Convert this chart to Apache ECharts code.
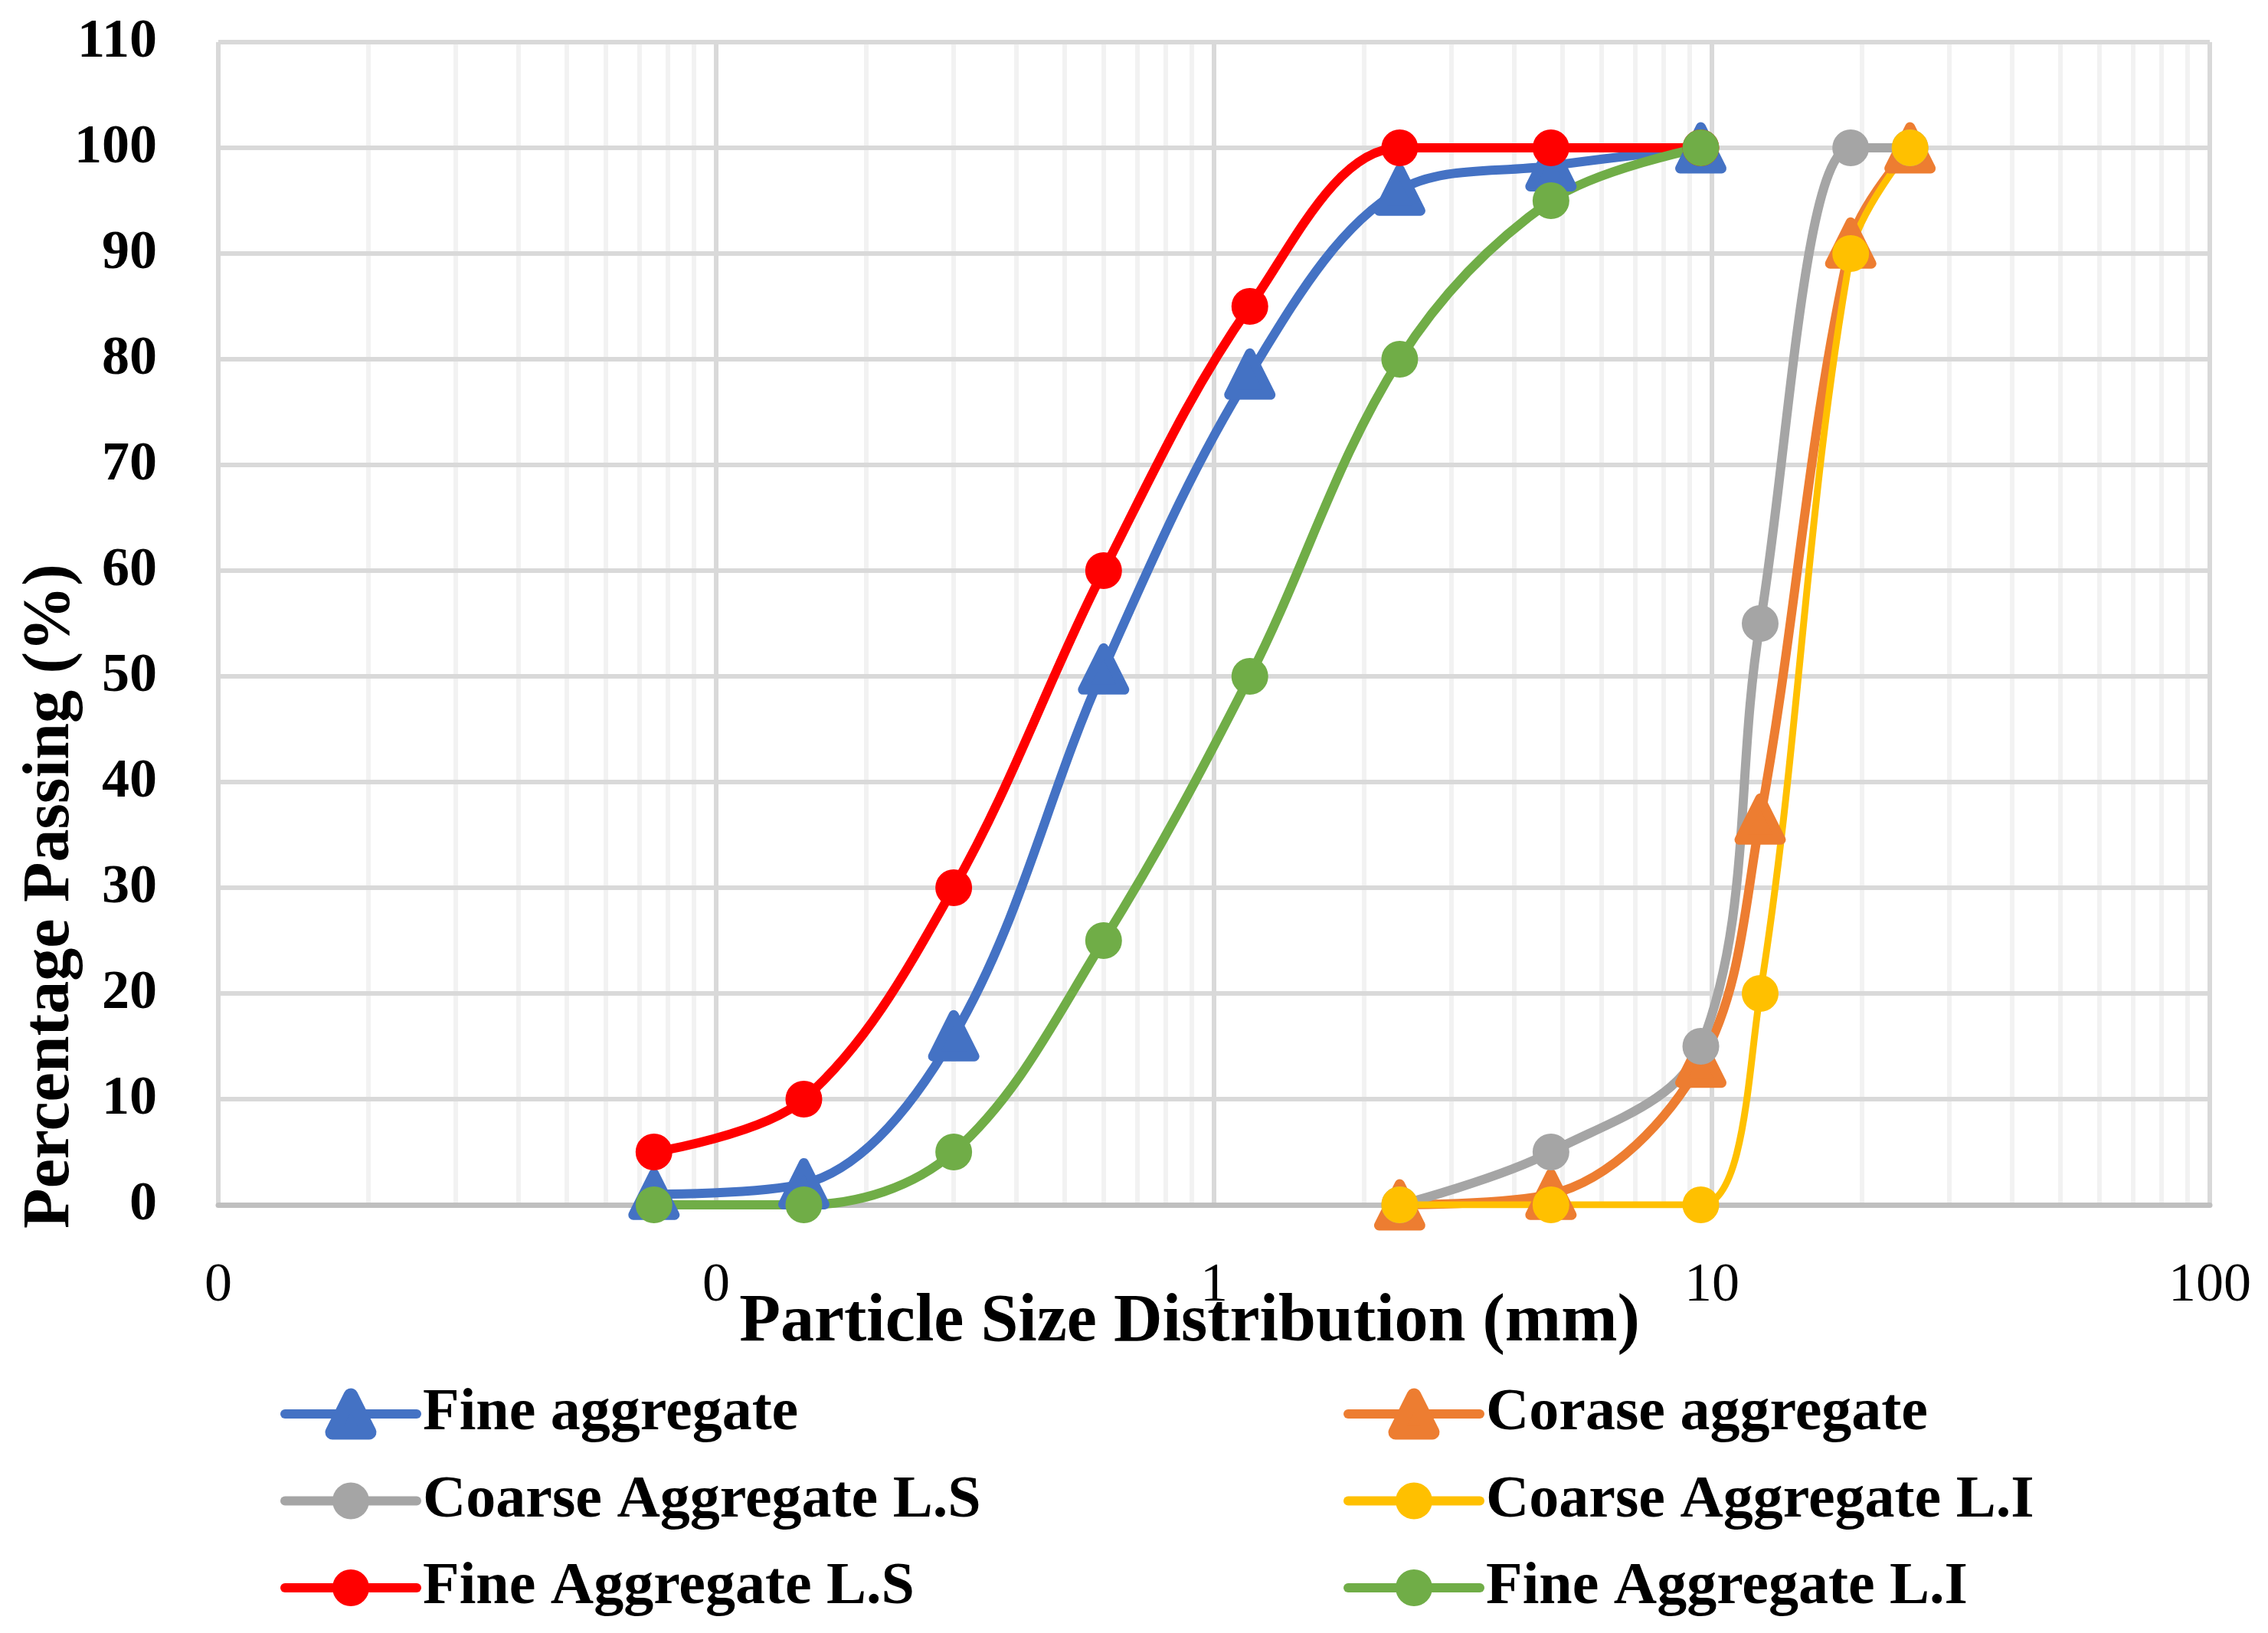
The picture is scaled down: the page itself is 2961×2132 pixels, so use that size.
<!DOCTYPE html>
<html>
<head>
<meta charset="utf-8">
<script src="https://cdn.jsdelivr.net/npm/echarts@6/dist/echarts.min.js"></script>
<style>
html,body{margin:0;padding:0;background:#ffffff;}
#chart{width:2961px;height:2132px;}
</style>
</head>
<body>
<div id="chart"></div>
<script>
// ---- data ----
const fineSizes = [0.075, 0.15, 0.3, 0.6, 1.18, 2.36, 4.75, 9.5];
const coarseSizes = [2.36, 4.75, 9.5, 12.5, 19, 25];
const fineAggregate = [1, 2, 16, 50.7, 78.6, 96, 98.3, 100];
const coarseAggregate = [0, 1, 13.5, 36.5, 91, 100];
const coarseAggregateLS = [0, 5, 15, 55, 100, 100];
const coarseAggregateLI = [0, 0, 0, 20, 90, 100];
const fineAggregateLS = [5, 10, 30, 60, 85, 100, 100, 100];
const fineAggregateLI = [0, 0, 5, 25, 50, 80, 95, 100];
const seriesNames = ['Fine aggregate', 'Corase aggregate', 'Coarse Aggregate L.S',
                     'Coarse Aggregate L.I', 'Fine Aggregate L.S', 'Fine Aggregate L.I'];
const minorGridValues = [0.02,0.03,0.04,0.05,0.06,0.07,0.08,0.09,
                         0.2,0.3,0.4,0.5,0.6,0.7,0.8,0.9,
                         2,3,4,5,6,7,8,9,
                         20,30,40,50,60,70,80,90];
const xMin = 0.01, xMax = 100;
const yMin = 0, yMax = 110, yStep = 10;

const FONT = '"Liberation Serif", "Times New Roman", serif';
const COLORS = ['#4472C4', '#ED7D31', '#A5A5A5', '#FFC000', '#FF0000', '#70AD47'];

function pairs(xs, ys) { return xs.map((x, i) => [x, ys[i]]); }

function makeSeries(idx, xs, ys, symbol, lw) {
  const color = COLORS[idx];
  const tri = symbol === 'triangle';
  return {
    name: seriesNames[idx],
    type: 'line',
    data: pairs(xs, ys),
    smooth: 0.35,
    symbol: symbol,
    symbolSize: tri ? 54 : 48,
    showAllSymbol: true,
    lineStyle: { color: color, width: lw, cap: 'round', join: 'round' },
    itemStyle: { color: color, borderColor: color, borderWidth: tri ? 13 : 0, borderJoin: 'round' },
    z: 2,
    emphasis: { disabled: true },
    animation: false
  };
}

const legendText = { fontFamily: FONT, fontWeight: 'bold', fontSize: 78, color: '#000', lineHeight: 80, padding: [0, 0, 0, 3] };
function legendCol(left, names) {
  return {
    left: left, top: 1806, orient: 'vertical', padding: 0,
    itemWidth: 172, itemHeight: 60, itemGap: 33.5,
    selectedMode: false,
    textStyle: legendText,
    lineStyle: { width: 12, cap: 'round' },
    data: names.map(n => (n === 'Fine aggregate' || n === 'Corase aggregate')
      ? { name: n, itemStyle: { borderWidth: 19, borderJoin: 'round' } } : { name: n })
  };
}

const chart = echarts.init(document.getElementById('chart'));
chart.setOption({
  animation: false,
  backgroundColor: '#ffffff',
  grid: { left: 285, right: 76, top: 55, bottom: 559, containLabel: false, outerBoundsMode: 'none' },
  xAxis: {
    type: 'log', logBase: 10, min: xMin, max: xMax, splitNumber: 4, z: 1,
    axisLine: { show: true, onZero: false, lineStyle: { color: '#bfbfbf', width: 7 } },
    axisTick: { show: false },
    axisLabel: {
      fontFamily: FONT, fontSize: 72, color: '#000', margin: 70,
      formatter: v => (v < 0.5 ? '0' : String(Math.round(v)))
    },
    splitLine: { show: true, lineStyle: { color: '#d9d9d9', width: 6 } },
    name: 'Particle Size Distribution (mm)', nameLocation: 'middle', nameGap: 110,
    nameMoveOverlap: false,
    nameTextStyle: { fontFamily: FONT, fontWeight: 'bold', fontSize: 88, color: '#000', padding: [0, 64, 0, 0] }
  },
  yAxis: {
    type: 'value', min: yMin, max: yMax, interval: yStep, z: 1,
    axisLine: { show: false }, axisTick: { show: false },
    axisLabel: { fontFamily: FONT, fontWeight: 'bold', fontSize: 72, color: '#000', margin: 80 },
    splitLine: { show: true, showMinLine: false, lineStyle: { color: '#d9d9d9', width: 6 } },
    name: 'Percentage Passing (%)', nameLocation: 'middle', nameRotate: 90, nameGap: 175,
    nameMoveOverlap: false,
    nameTextStyle: { fontFamily: FONT, fontWeight: 'bold', fontSize: 86, color: '#000', padding: [0, 712, 0, 0] }
  },
  legend: [
    legendCol(366, [seriesNames[0], seriesNames[2], seriesNames[4]]),
    legendCol(1754, [seriesNames[1], seriesNames[3], seriesNames[5]])
  ],
  series: [
    {
      name: '__minor', type: 'line', data: [], silent: true, z: 0,
      markLine: {
        silent: true, z: 0, symbol: ['none', 'none'], label: { show: false },
        lineStyle: { color: '#f2f2f2', width: 6, type: 'solid' },
        emphasis: { disabled: true }, animation: false,
        data: minorGridValues.map(v => ({ xAxis: v }))
      }
    },
    makeSeries(0, fineSizes, fineAggregate, 'triangle', 12),
    makeSeries(1, coarseSizes, coarseAggregate, 'triangle', 12),
    makeSeries(2, coarseSizes, coarseAggregateLS, 'circle', 12),
    makeSeries(3, coarseSizes, coarseAggregateLI, 'circle', 9),
    makeSeries(4, fineSizes, fineAggregateLS, 'circle', 12),
    makeSeries(5, fineSizes, fineAggregateLI, 'circle', 12)
  ]
});
</script>
</body>
</html>
